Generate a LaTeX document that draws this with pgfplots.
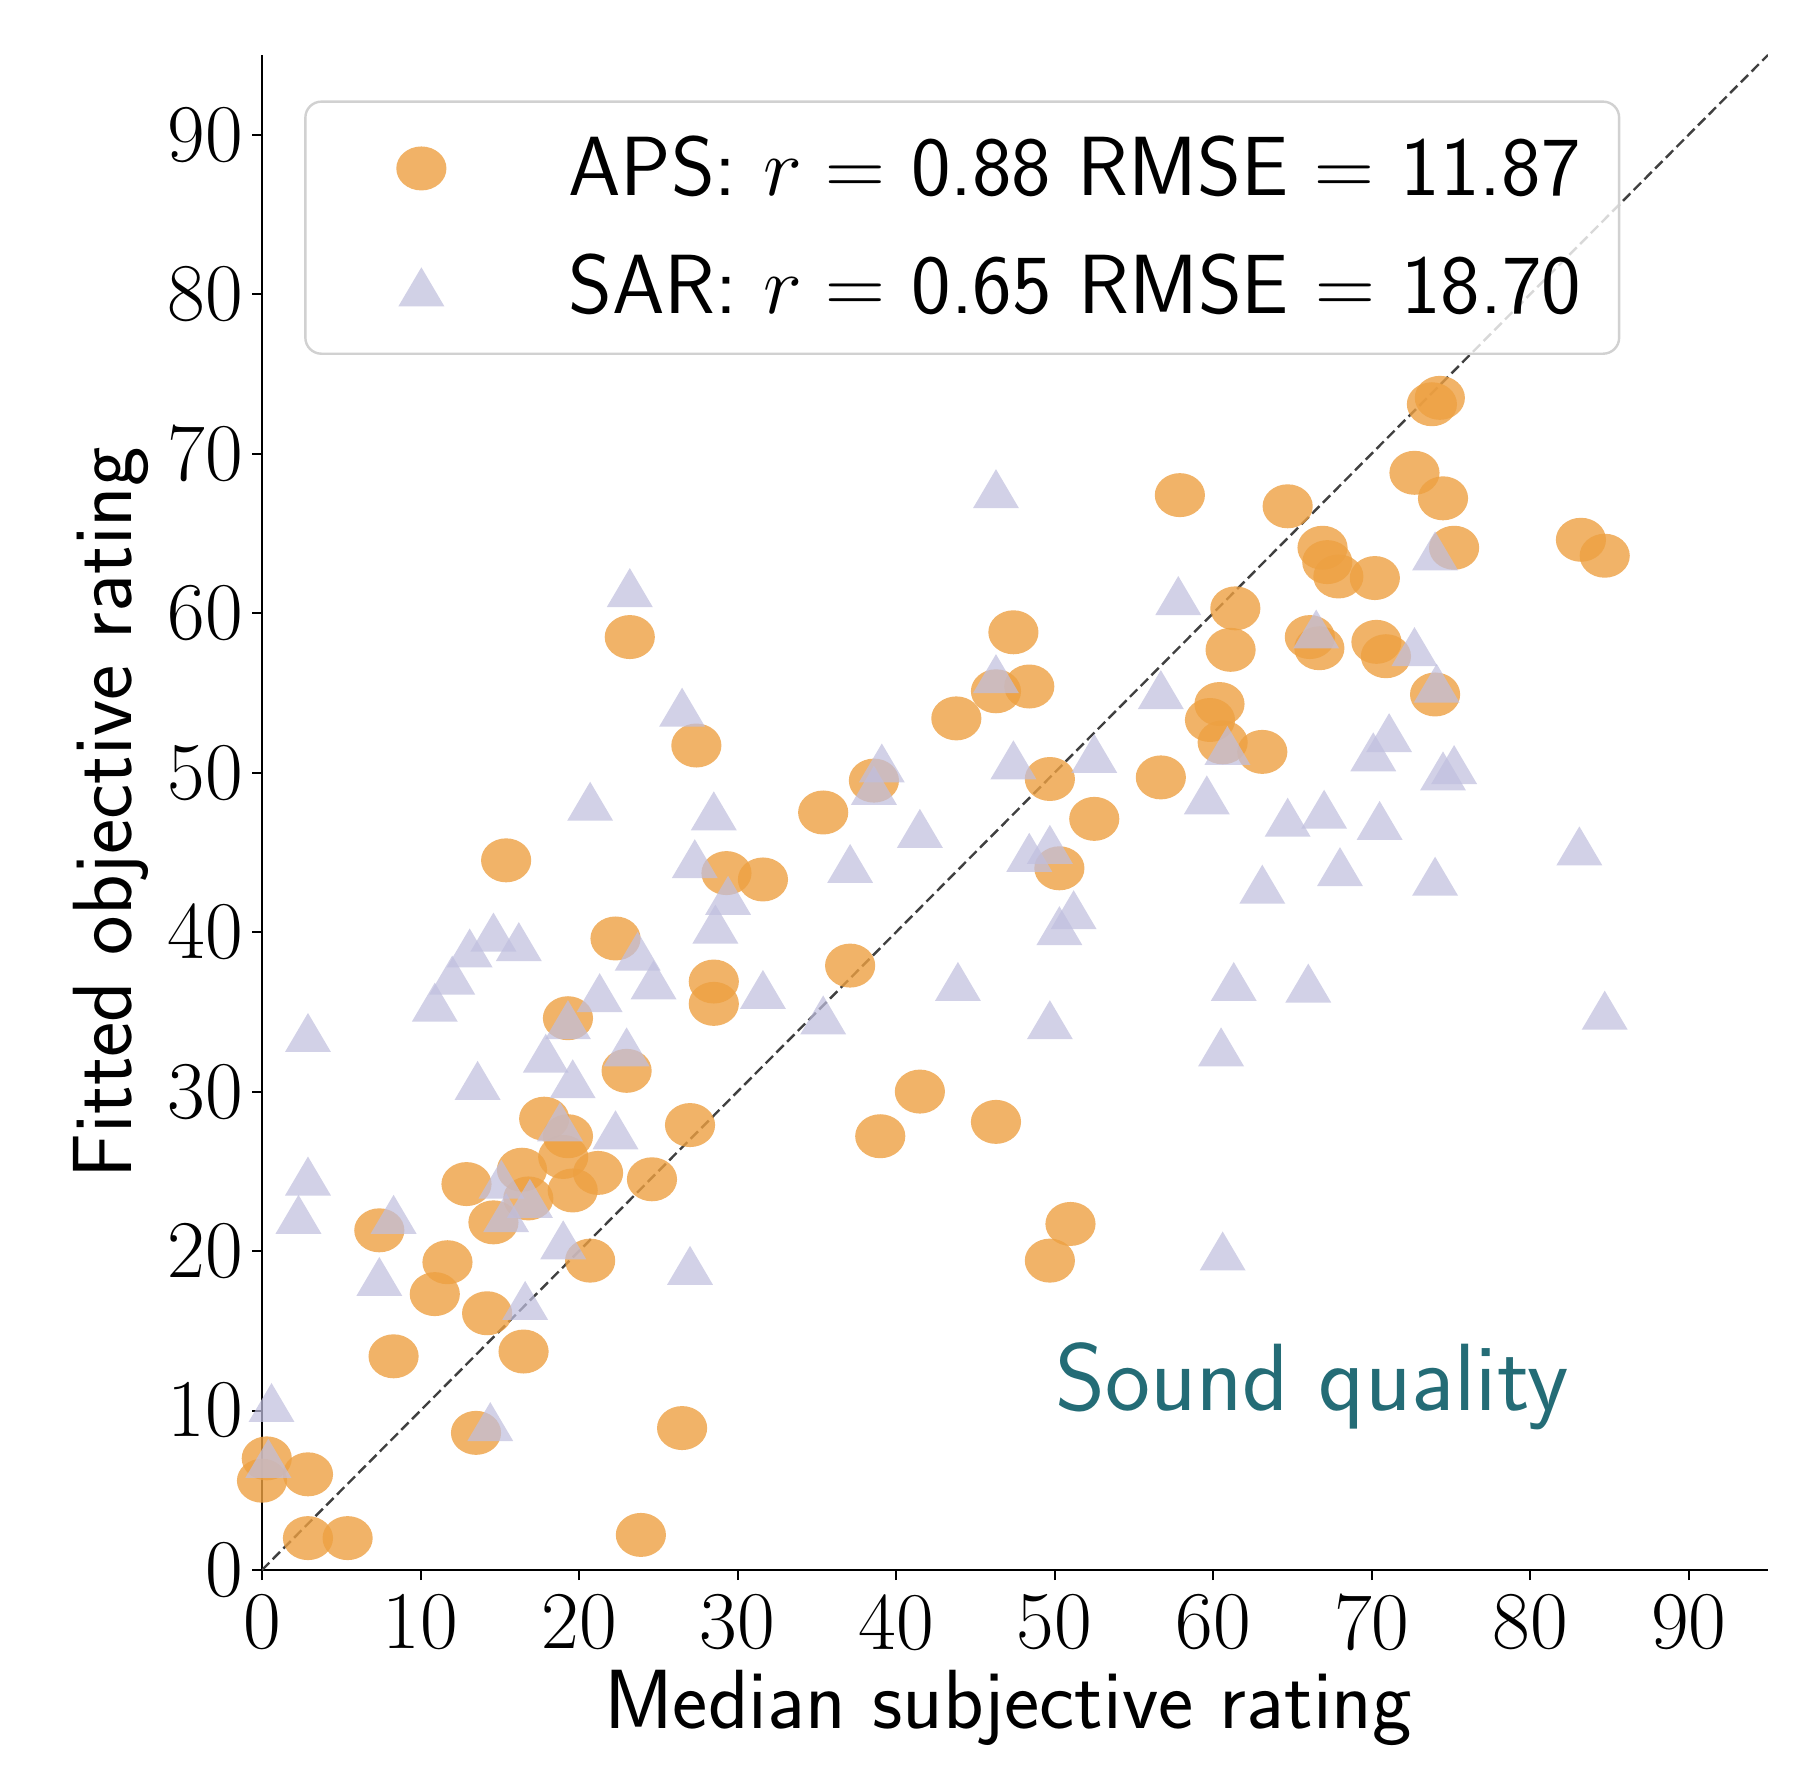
\documentclass[border=0pt]{standalone}
\usepackage{fontspec}
\usepackage{pgfplots}
\usepackage{pgfplotstable}
\pgfplotsset{compat=1.18}
\definecolor{apsc}{RGB}{237,160,66}
\definecolor{sarc}{RGB}{192,191,222}
\definecolor{teal2}{RGB}{36,108,118}

\pgfplotstableread{
x y
0.0 5.6
0.3 7.0
2.9 6.0
2.9 2.0
5.4 2.0
7.4 21.3
8.3 13.4
10.9 17.3
11.7 19.3
12.9 24.2
13.5 8.6
14.2 16.1
14.6 21.8
15.4 44.5
16.4 25.1
16.5 13.7
16.8 23.3
17.8 28.3
19.0 25.9
19.3 27.2
19.3 34.6
19.6 23.8
20.7 19.4
21.2 24.9
22.3 39.6
23.0 31.3
23.2 58.5
23.9 2.2
24.6 24.5
26.5 8.9
27.0 27.9
27.4 51.7
28.5 36.9
28.5 35.5
29.3 43.7
31.6 43.3
35.4 47.5
37.1 37.9
38.6 49.5
39.0 27.2
41.5 30.0
43.8 53.4
46.3 28.1
46.3 55.1
47.4 58.8
48.4 55.4
49.7 19.4
49.7 49.6
50.3 44.0
51.0 21.7
52.5 47.1
56.7 49.7
57.9 67.4
59.8 53.3
60.4 54.3
60.6 51.9
61.1 57.7
61.4 60.3
63.1 51.3
64.7 66.7
66.1 58.5
66.7 57.8
66.9 64.1
67.2 63.2
67.9 62.3
70.2 62.2
70.3 58.2
70.9 57.3
72.7 68.8
73.8 73.1
74.3 73.5
74.0 54.9
74.5 67.2
75.2 64.1
83.2 64.6
84.7 63.6
}\aps

\pgfplotstableread{
x y
0.6 10.5
0.4 7.0
2.3 22.3
2.9 24.7
2.9 33.7
7.4 18.4
8.3 22.3
10.9 35.6
12.0 37.3
13.1 39.0
13.6 30.7
14.4 9.3
14.6 40.0
15.1 24.5
15.4 22.4
16.2 39.4
16.6 16.9
16.9 23.3
17.9 32.4
18.8 28.1
19.0 20.7
19.3 34.5
19.6 30.8
20.7 48.2
21.3 36.2
22.3 27.6
23.0 32.8
23.2 61.6
23.7 38.8
24.7 37.0
26.5 54.1
27.0 19.1
27.3 44.6
28.5 47.6
28.6 40.5
29.4 42.3
31.6 36.4
35.4 34.8
37.1 44.3
38.6 49.2
39.1 50.6
41.5 46.5
43.9 36.9
46.3 67.8
46.3 56.2
47.4 50.8
48.4 45.0
49.7 34.5
49.7 45.5
50.3 40.4
51.2 41.4
52.5 51.2
56.7 55.2
57.8 61.1
59.6 48.6
60.5 32.8
60.6 20.0
60.9 51.7
61.3 36.9
63.1 43.0
64.7 47.2
66.0 36.8
66.5 59.0
67.0 47.7
68.0 44.1
70.1 51.3
70.5 47.0
71.1 52.5
72.7 57.9
74.0 63.9
74.0 43.5
74.1 55.6
74.5 50.1
75.2 50.5
83.1 45.4
84.7 35.1
}\sar

\begin{document}
\begin{tikzpicture}
\begin{axis}[
  name=ax,
  scale only axis, width=376.5pt, height=378.75pt,
  xmin=0, xmax=95, ymin=0, ymax=95,
  axis lines=left,
  axis line style={-, line width=0.5pt, black},
  xtick={0,10,...,90}, ytick={0,10,...,90},
  tick align=outside, major tick length=2.5pt,
  tick style={black, line width=0.5pt},
  /pgf/number format/assume math mode=true,
  tick label style={font=\fontsize{20.5}{24}\selectfont},
  yticklabel style={inner xsep=2pt},
  xlabel={Median subjective rating},
  ylabel={Fitted objective rating},
  label style={font=\sffamily\fontsize{21}{25}\selectfont},
  xlabel style={at={(axis description cs:0.4954,-0.1043)}, anchor=base},
  ylabel style={at={(axis description cs:-0.1004,0.5)}, anchor=center},
  legend cell align=left,
  legend style={at={(0.028,0.97)}, anchor=north west,
    draw=black!18, line width=0.6pt, rounded corners=4pt,
    fill=white, fill opacity=0.8, text opacity=1, draw opacity=1,
    font=\sffamily\fontsize{21}{25}\selectfont,
    inner xsep=7.5pt, inner ysep=6.5pt, row sep=9.2pt},
  legend image code/.code={\path[draw=none] (0pt,0pt) -- (56.2pt,0pt); \draw[#1, draw=none] plot coordinates {(21.5pt,0pt)};},
]
\addplot[black!75, line width=0.6pt, dash pattern=on 2.6pt off 1.2pt, forget plot] coordinates {(0,0) (95,95)};
\addplot[only marks, mark=*, mark size=5.5pt, color=apsc,
  mark options={draw=none, draw opacity=0, fill=apsc, fill opacity=0.8, xscale=1.14}] table {\aps};
\addlegendentry{APS: $r =$ 0.88 RMSE $=$ 11.87}
\addplot[only marks, mark=triangle*, mark size=6.5pt, color=sarc,
  mark options={draw=none, draw opacity=0, fill=sarc, fill opacity=0.72, xscale=1.02, yshift=-1.6pt}] table {\sar};
\addlegendentry{SAR: $r =$ 0.65 RMSE $=$ 18.70}
\node[anchor=base west, text=teal2, font=\sffamily\fontsize{23.9}{28}\selectfont, inner sep=0pt] at (axis cs:50,10) {Sound quality};
\end{axis}
\pgfresetboundingbox
\path[use as bounding box] ([shift={(-65.5pt,-53pt)}]ax.south west) rectangle ([shift={(8pt,13.75pt)}]ax.north east);
\end{tikzpicture}
\end{document}
